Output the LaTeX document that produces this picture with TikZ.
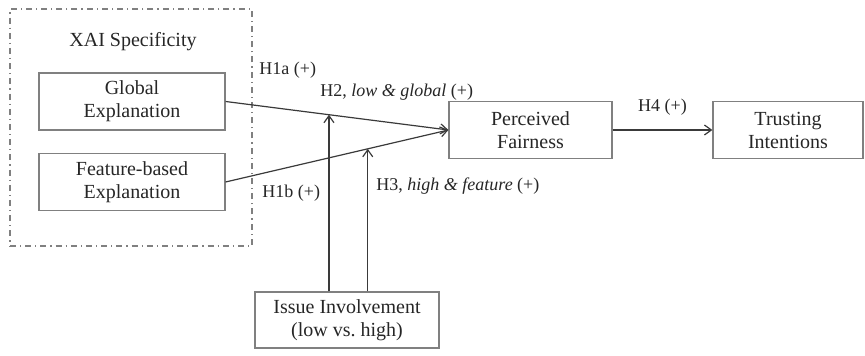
\documentclass[tikz,border=0pt]{standalone}
\usepackage{fontspec}
\setmainfont{Liberation Serif}
\usepackage{tikz}
\usetikzlibrary{
  positioning,
  calc,
  arrows.meta
}
\definecolor{boxGray}{HTML}{808080}
\definecolor{lineGray}{HTML}{3A3A3A}
\tikzstyle{box}=[draw=boxGray, line width=0.6pt, align=center, inner sep=0pt,
  font=\fontsize{10}{11.5}\selectfont, text=black!85]
\tikzstyle{link}=[draw=lineGray, line width=0.6pt, -{Straight Barb[length=3.5pt, width=5pt]}]
\tikzstyle{lab}=[font=\fontsize{9}{10}\selectfont, text=black!85, inner sep=0pt]

\begin{document}
\begin{tikzpicture}[x=0.5pt, y=-0.5pt]
      \useasboundingbox (0,0) rectangle (865,356);

      % 外側の点線枠
      \node (XAI) at (131,127.5) [draw=boxGray, line width=0.6pt, dash dot,
        minimum width=121pt, minimum height=118.5pt] {};
      \node (title) at (133,42) [box, draw=none]{XAI Specificity};

      % 箱
      \node (GE) at (132,101.5) [box, minimum width=93pt, minimum height=28.5pt]{Global\\Explanation};
      \node (FE) at (132,182) [box, minimum width=93pt, minimum height=28.5pt]{Feature-based\\Explanation};
      \node (PF) at (530.5,130) [box, minimum width=81.5pt, minimum height=28.5pt]{Perceived\\Fairness};
      \node (TI) at (788,130) [box, minimum width=75pt, minimum height=28.5pt]{Trusting\\Intentions};
      \node (II) at (347,320) [box, minimum width=92pt, minimum height=28pt]{Issue Involvement\\(low vs.\ high)};

      % 調整効果の着地点
      \coordinate (M2) at ($(GE.east)!0.464!(PF.west)$);
      \coordinate (M3) at ($(FE.east)!0.638!(PF.west)$);

      % 矢印
      \draw[link] (GE.east) -- (PF.west);
      \draw[link] (FE.east) -- (PF.west);
      \draw[link] (PF.east) -- (TI.west);
      \draw[link] (M2 |- II.north) -- (M2);
      \draw[link] (M3 |- II.north) -- (M3);

      % ラベル
      \node (H1a) at (259,70) [lab, anchor=west]{H1a (+)};
      \node (H1b) at (262,193) [lab, anchor=west]{H1b (+)};
      \node (H2) at (320,92) [lab, anchor=west]{H2, \textit{low \& global} (+)};
      \node (H3) at (376,186) [lab, anchor=west]{H3, \textit{high \& feature} (+)};
      \node (H4) [lab, above=7pt of $(PF.east)!0.5!(TI.west)$]{H4 (+)};
\end{tikzpicture}
\end{document}
